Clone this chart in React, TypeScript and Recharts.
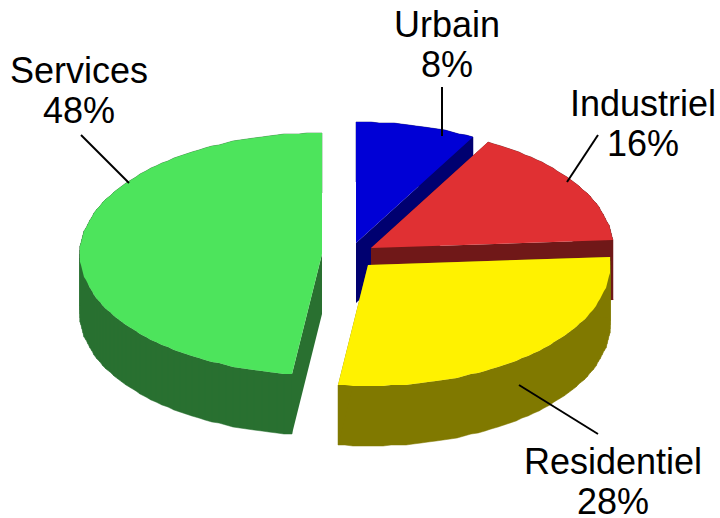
import React from "react";
import { PieChart, Pie } from "recharts";

const categories = ["Urbain", "Industriel", "Residentiel", "Services"];
const shares = [8, 16, 28, 48];

const topColors = ["#0000d6", "#e03033", "#fff200", "#4de45c"];
const sideColors = ["#000070", "#701818", "#807900", "#297030"];

// how far each slice is pulled away from the pie centre
const explodeX = [34, 49, 46, 0];
const explodeY = [-11, -6, 11, 0];

const labelX = [447, 643, 613, 79];
const labelY = [37, 116, 474, 83];
const leaders = [
  [442, 87, 442, 136],
  [598, 135, 567, 182],
  [598, 434, 519, 385],
  [81, 135, 129, 183],
];

const pieData = categories.map((name, i) => ({ name, value: shares[i] }));

const RADIUS_X = 242;
const RADIUS_Y = 121;
const DEPTH = 60;
const STEP = 1.8;

const toPath = (pts: number[][]) =>
  pts.map((p, i) => `${i ? "L" : "M"}${p[0]},${p[1]}`).join("") + "Z";

const Slice3D = (props: any) => {
  const { cx, cy, startAngle, endAngle, payload } = props;
  const i = categories.indexOf(payload.name);
  const ox = cx + explodeX[i];
  const oy = cy + explodeY[i];

  const arc: number[][] = [];
  const count = Math.ceil(Math.abs(endAngle - startAngle) / STEP);
  for (let k = 0; k <= count; k++) {
    const a = ((startAngle + ((endAngle - startAngle) * k) / count) * Math.PI) / 180;
    arc.push([
      Math.round(ox + RADIUS_X * Math.cos(a)),
      Math.round(oy - RADIUS_Y * Math.sin(a)),
    ]);
  }
  const first = arc[0];
  const last = arc[arc.length - 1];
  const down = (p: number[]) => [p[0], p[1] + DEPTH];
  const apex = [ox, oy];

  // one quad per arc step, a single wall polygon cancels itself where it folds
  const wallQuads = arc.slice(1).map((p, k) => [arc[k], p, down(p), down(arc[k])]);
  const cutA = [apex, first, down(first), down(apex)];
  const cutB = [apex, last, down(last), down(apex)];

  return (
    <g>
      {wallQuads.map((q, k) => (
        <path key={k} d={toPath(q)} fill={sideColors[i]} stroke={sideColors[i]} strokeWidth={0.5} />
      ))}
      <path d={toPath(cutA)} fill={sideColors[i]} />
      <path d={toPath(cutB)} fill={sideColors[i]} />
      <path d={toPath([apex, ...arc])} fill={topColors[i]} />
    </g>
  );
};

const SliceLabel = (props: any) => {
  const { percent, payload } = props;
  const i = categories.indexOf(payload.name);
  const [x1, y1, x2, y2] = leaders[i];
  return (
    <g>
      <line x1={x1} y1={y1} x2={x2} y2={y2} stroke="#000" strokeWidth={2} />
      <text
        x={labelX[i]}
        y={labelY[i]}
        textAnchor="middle"
        fontFamily="'Liberation Sans', Arial, sans-serif"
        fontSize={36}
        fill="#000"
      >
        <tspan x={labelX[i]}>{payload.name}</tspan>
        <tspan x={labelX[i]} dy={39.5}>
          {`${Math.round(percent * 100)}%`}
        </tspan>
      </text>
    </g>
  );
};

export default function App() {
  return (
    <div style={{ position: "absolute", left: 0, top: 0, width: 720, height: 518 }}>
      <PieChart width={720} height={518} margin={{ top: 0, right: 0, bottom: 0, left: 0 }}>
        <Pie
          data={pieData}
          dataKey="value"
          nameKey="name"
          cx={322}
          cy={254}
          innerRadius={0}
          outerRadius={RADIUS_X}
          startAngle={90}
          endAngle={-270}
          stroke="none"
          shape={Slice3D}
          label={SliceLabel}
          labelLine={false}
          isAnimationActive={false}
        />
      </PieChart>
    </div>
  );
}
